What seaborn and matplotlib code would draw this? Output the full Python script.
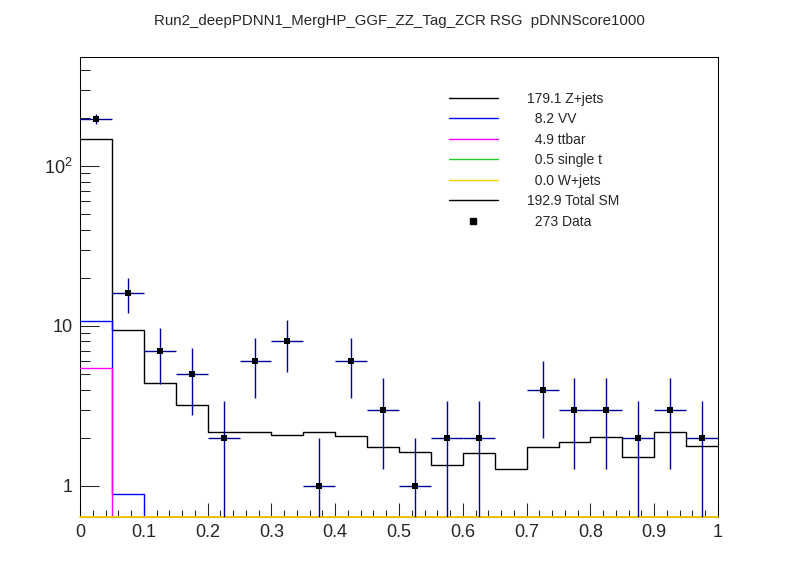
import numpy as np
import pandas as pd
import matplotlib
matplotlib.use("Agg")
import matplotlib.pyplot as plt
from matplotlib.lines import Line2D
from matplotlib.ticker import FixedLocator, FuncFormatter, MultipleLocator
import seaborn as sns

# ---------------- data ----------------
bin_edges = [0.00, 0.05, 0.10, 0.15, 0.20, 0.25, 0.30, 0.35, 0.40, 0.45, 0.50,
             0.55, 0.60, 0.65, 0.70, 0.75, 0.80, 0.85, 0.90, 0.95, 1.00]
total_sm = [146.8, 9.44, 4.38, 3.21, 2.17, 2.17, 2.07, 2.17, 2.05, 1.75,
            1.62, 1.35, 1.60, 1.28, 1.75, 1.88, 2.02, 1.51, 2.18, 1.77]
vv = [10.7, 0.89, 0.40, 0.30, 0.25, 0.20, 0.20, 0.15, 0.15, 0.10,
      0.10, 0.10, 0.10, 0.10, 0.10, 0.10, 0.10, 0.10, 0.10, 0.10]
ttbar = [5.46, 0.30, 0.15, 0.10, 0.05, 0.05, 0.05, 0.05, 0.05, 0.05,
         0.05, 0.05, 0.05, 0.05, 0.05, 0.05, 0.05, 0.05, 0.05, 0.05]
single_t = [0.40, 0.05, 0.02, 0.01, 0.01, 0.01, 0.0, 0.0, 0.0, 0.0,
            0.0, 0.0, 0.0, 0.0, 0.0, 0.0, 0.0, 0.0, 0.0, 0.0]
wjets = [0.0] * 20
data_counts = [197, 16, 7, 5, 2, 6, 8, 1, 6, 3, 1, 2, 2, 0, 4, 3, 3, 2, 3, 2]

legend_names = ["Z+jets", "VV", "ttbar", "single t", "W+jets", "Total SM"]
legend_yields = [179.1, 8.2, 4.9, 0.5, 0.0, 192.9]
data_total = 273
title = "Run2_deepPDNN1_MergHP_GGF_ZZ_Tag_ZCR RSG  pDNNScore1000"

# ---------------- style ----------------
sns.set_style("ticks")
plt.rcParams["font.family"] = ["Liberation Sans", "DejaVu Sans"]
plt.rcParams["mathtext.default"] = "regular"

YMIN, YMAX = 0.637, 478.0
c_zjets, c_vv, c_tt, c_st, c_wj, c_tot = "black", "#0000ff", "#ff00ff", "#22cc22", "#ffcc00", "black"
c_err = "#000099"

fig = plt.figure(figsize=(7.98, 5.75), dpi=100)
ax = fig.add_axes([80 / 798, 1 - 517.3 / 575, (718 - 80) / 798, (517.3 - 57.3) / 575])
ax.set_yscale("log")

edges = np.array(bin_edges)
centers = 0.5 * (edges[:-1] + edges[1:])
df = pd.DataFrame({"x": centers, "total": total_sm, "vv": vv, "tt": ttbar,
                   "st": single_t, "wj": wjets, "data": data_counts})

def draw_hist(col, color, z, lw=1.0):
    # ROOT draws bins below the axis minimum on the bottom of the frame
    sub = pd.DataFrame({"x": df["x"], "w": np.maximum(df[col].to_numpy(dtype=float), YMIN)})
    sns.histplot(data=sub, x="x", weights="w", bins=list(bin_edges), element="step", fill=False,
                 color=color, linewidth=lw, ax=ax, zorder=z, clip_on=(col != "wj"))

draw_hist("total", c_tot, 3)
draw_hist("vv", c_vv, 3.1)
draw_hist("tt", c_tt, 3.2)
draw_hist("st", c_st, 3.3)
draw_hist("wj", c_wj, 3.4, lw=1.3)

# data points with sqrt(N) errors
dd = df[df["data"] > 0]
half = 0.5 * (edges[1] - edges[0])
ax.errorbar(dd["x"], dd["data"], yerr=np.sqrt(dd["data"]), xerr=half,
            fmt="none", ecolor=c_err, elinewidth=1.0, capsize=0, zorder=4)
sns.scatterplot(data=dd, x="x", y="data", marker="s", color="black", s=22,
                edgecolor="black", linewidth=0, ax=ax, zorder=5)

ax.set_xlim(0, 1)
ax.set_ylim(YMIN, YMAX)
ax.set_xlabel("")
ax.set_ylabel("")

# ticks
ax.xaxis.set_major_locator(MultipleLocator(0.1))
ax.xaxis.set_minor_locator(MultipleLocator(0.02))
ax.xaxis.set_major_formatter(FuncFormatter(lambda v, p: "0" if abs(v) < 1e-9 else ("1" if abs(v - 1) < 1e-9 else f"{v:.1f}")))
ax.yaxis.set_major_locator(FixedLocator([1, 10, 100]))
ax.yaxis.set_minor_locator(FixedLocator([m * d for d in (1, 10, 100) for m in range(2, 10)]))
ax.yaxis.set_major_formatter(FuncFormatter(lambda v, p: {1: "1", 10: "10", 100: r"$10^{2}$"}.get(int(round(v)), "")))
ax.yaxis.set_minor_formatter(FuncFormatter(lambda v, p: ""))
ax.tick_params(axis="x", which="major", direction="in", length=10, width=0.75, labelsize=13, pad=4.5, top=False)
ax.tick_params(axis="x", which="minor", direction="in", length=5, width=0.75, top=False)
ax.tick_params(axis="y", which="major", direction="in", length=13.5, width=0.75, labelsize=13, pad=5, right=False)
ax.tick_params(axis="y", which="minor", direction="in", length=7, width=0.75, right=False)
for s in ax.spines.values():
    s.set_visible(True)
    s.set_linewidth(0.75)
    s.set_color("black")

# legend
colors = [c_zjets, c_vv, c_tt, c_st, c_wj, c_tot]
handles = [Line2D([], [], color=c, lw=1.0) for c in colors]
labels = [f"{v:5.1f} {n}" for v, n in zip(legend_yields, legend_names)]
handles.append(Line2D([], [], marker="s", color="black", ls="none", markersize=4))
labels.append(f"{data_total:5d} Data")
leg = fig.legend(handles, labels, loc="upper left", bbox_to_anchor=(449 / 798, 1 - 91.5 / 575),
                 frameon=False, fontsize=10, handlelength=3.5, handletextpad=2.15,
                 labelspacing=0.47, borderpad=0, borderaxespad=0)

fig.text(0.5, 1 - 21 / 575, title, ha="center", va="center", fontsize=10.8)

fig.savefig("out.png", dpi=100)
